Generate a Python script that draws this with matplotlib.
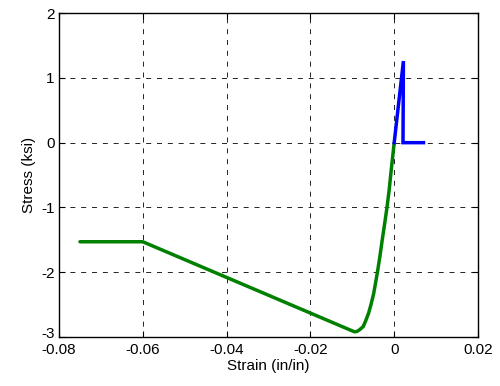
import matplotlib
matplotlib.use("Agg")
import matplotlib.pyplot as plt
import matplotlib.transforms as mtransforms

# concrete (compression) branch
conc_strain = [-0.075, -0.060, -0.0095, -0.0089, -0.0083, -0.0074, -0.0068,
               -0.0061, -0.0055, -0.0049, -0.0040, -0.0034, -0.0029,
               -0.0023, -0.00172, -0.0012, -0.00079, -0.0004, 0.0]
conc_stress = [-1.53, -1.53, -2.92, -2.915, -2.89, -2.84, -2.75,
               -2.63, -2.49, -2.33, -2.00, -1.75, -1.52,
               -1.26, -1.0, -0.73, -0.47, -0.24, 0.0]

# tension branch
ten_strain = [0.0, 0.0022, 0.0021, 0.007]
ten_stress = [0.0, 1.26, 0.0, 0.0]

plt.rcParams['font.family'] = ['Liberation Sans', 'DejaVu Sans']

fig = plt.figure(figsize=(5.0, 3.86), dpi=100)
ax = fig.add_axes([0.118, 0.127, 0.838, 0.839])

ax.plot(conc_strain, conc_stress, color='#008000', lw=2.5,
        solid_joinstyle='round', solid_capstyle='round')
ax.plot(ten_strain, ten_stress, color='#0000ff', lw=2.5, solid_joinstyle='miter')

ax.set_xlim(-0.08, 0.02)
ax.set_ylim(-3, 2)
ax.set_xticks([-0.08, -0.06, -0.04, -0.02, 0, 0.02])
ax.set_xticklabels(['-0.08', '-0.06', '-0.04', '-0.02', '0', '0.02'])
ax.set_yticks([-3, -2, -1, 0, 1, 2])
ax.set_yticklabels(['-3', '-2', '-1', '0', '1', '2'])
ax.tick_params(direction='in', top=True, right=True, length=4, width=0.8,
               labelsize=11, pad=3)
ax.tick_params(axis='x', pad=4)
# nudge the bottom y label up a little so it does not sit on "-0.08"
lab = ax.get_yticklabels()[0]
lab.set_transform(lab.get_transform() +
                  mtransforms.ScaledTranslation(0, 4 / 100, fig.dpi_scale_trans))
ax.grid(True, color='k', lw=0.6, linestyle=(0, (6, 7)))
for s in ax.spines.values():
    s.set_linewidth(1.0)

ax.set_xlabel('Strain (in/in)', fontsize=11, labelpad=2)
ax.set_ylabel('Stress (ksi)', fontsize=11, labelpad=4)

fig.savefig('out.png', dpi=100)
